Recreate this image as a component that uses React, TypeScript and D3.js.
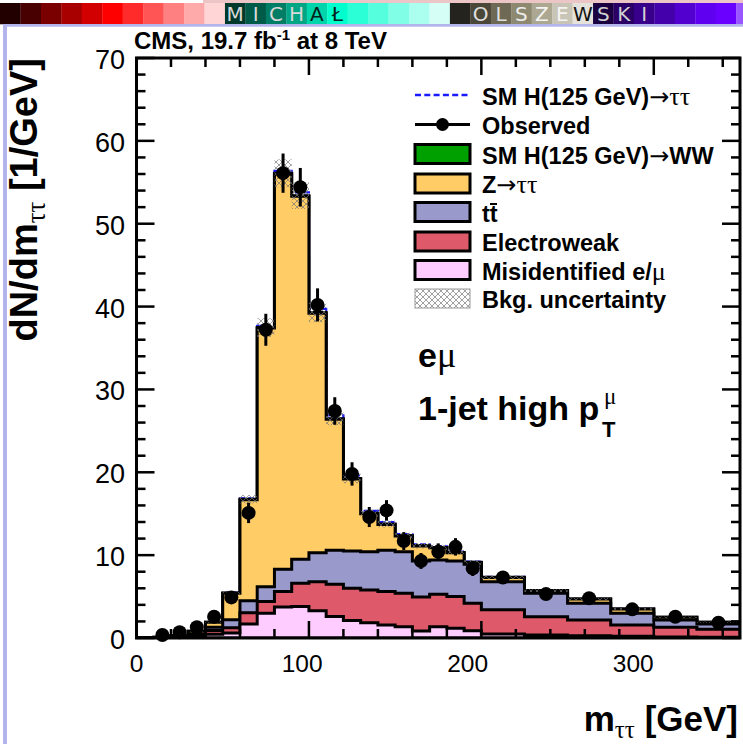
import React from "react";
import * as d3 from "d3";

// m_tautau binning (GeV)
const binEdges = [0, 10, 20, 30, 40, 50, 60, 70, 80, 90, 100, 110, 120, 130, 140, 150, 160, 170, 180, 190, 200, 225, 250, 275, 300, 325, 350];

// expected yields per process, dN/dm in 1/GeV (stacked bottom to top)
const misidentified = [0, 0.02, 0.05, 0.15, 0.45, 0.6, 1.69, 3.0, 3.75, 3.8, 3.3, 2.6, 2.1, 1.85, 1.57, 1.37, 0.85, 1.37, 1.17, 0.89, 0.48, 0.36, 0.28, 0.2, 0.12, 0.08];
const electroweak = [0, 0.02, 0.05, 0.15, 0.45, 0.65, 1.36, 1.4, 1.85, 2.8, 3.5, 3.9, 3.9, 3.95, 4.03, 4.03, 4.1, 3.9, 3.83, 3.31, 2.92, 2.19, 1.89, 1.37, 1.18, 0.97];
const ttbar = [0, 0.02, 0.05, 0.15, 0.4, 0.95, 1.45, 1.8, 2.7, 2.9, 3.5, 4.1, 4.5, 4.6, 5.0, 5.0, 4.35, 4.13, 4.3, 4.7, 3.4, 2.85, 2.03, 1.41, 0.87, 0.64];
const zTauTau = [0, 0.04, 0.15, 0.35, 0.6, 3.2, 12.2, 31.2, 47.7, 43.8, 28.9, 15.8, 8.7, 4.6, 3.1, 1.9, 1.8, 1.5, 1.0, 0.2, 0.5, 0.3, 0.5, 0.52, 0.33, 0.21];
const higgsWW = [0, 0, 0, 0, 0, 0.02, 0.05, 0.06, 0.08, 0.08, 0.08, 0.07, 0.06, 0.05, 0.05, 0.04, 0.04, 0.03, 0.03, 0.03, 0.02, 0.02, 0.01, 0.01, 0.01, 0.01];
const higgsTauTau = [0, 0, 0, 0, 0.02, 0.05, 0.1, 0.2, 0.3, 0.4, 0.45, 0.4, 0.35, 0.3, 0.25, 0.2, 0.15, 0.12, 0.1, 0.08, 0.06, 0.04, 0.03, 0.02, 0.02, 0.01];

// observed data and statistical errors
const observed = [null, 0.36, 0.69, 1.29, 2.57, 4.9, 15.1, 37.2, 56.1, 54.4, 40.2, 27.4, 19.8, 14.6, 15.4, 11.7, 9.3, 10.4, 11.0, 8.4, 7.3, 5.3, 4.8, 3.46, 2.57, 1.85];
const observedErr = [0, 0.19, 0.26, 0.36, 0.51, 0.7, 1.23, 1.93, 2.37, 2.33, 2.0, 1.66, 1.41, 1.21, 1.24, 1.08, 0.96, 1.02, 1.05, 0.92, 0.54, 0.46, 0.44, 0.37, 0.32, 0.27];

const bkgRelUncertainty = 0.03;

const xTickLabels = [0, 100, 200, 300];
const yTickLabels = [0, 10, 20, 30, 40, 50, 60, 70];

// header strip
const bannerColors = [
  "#220000", "#480000", "#7a0000", "#a80000", "#d20000", "#ff0000", "#ff2a2a", "#ff5555", "#ff8080", "#ffaaaa", "#ffd5d5",
  "#00382c", "#005a48", "#007d65", "#00a585", "#00d4aa", "#00ffcc", "#2affd5", "#55ffdd", "#80ffe6", "#aaffee", "#d5fff6",
  "#25231d", "#4a4638", "#6d6954", "#8d8971", "#aba791", "#c8c5b6", "#e4e2da",
  "#1a0040", "#2a0066", "#38008a", "#4400aa", "#5200d0", "#6000f0", "#6a00ff", "#9955ff",
];
const bannerLetters = [
  { i: 11, ch: "M", c: "#d8d8d8" }, { i: 12, ch: "I", c: "#d8d8d8" }, { i: 13, ch: "C", c: "#d8d8d8" },
  { i: 14, ch: "H", c: "#d8d8d8" }, { i: 15, ch: "A", c: "#05221c" }, { i: 16, ch: "Ł", c: "#05221c" },
  { i: 23, ch: "O", c: "#e0e0e0" }, { i: 24, ch: "L", c: "#e0e0e0" }, { i: 25, ch: "S", c: "#ececec" },
  { i: 26, ch: "Z", c: "#f4f4f4" }, { i: 27, ch: "E", c: "#f4f4f4" }, { i: 28, ch: "W", c: "#111111" },
  { i: 29, ch: "S", c: "#d0d0d0" }, { i: 30, ch: "K", c: "#d0d0d0" }, { i: 31, ch: "I", c: "#d0d0d0" },
];

const SANS = "'Liberation Sans', Arial, Helvetica, sans-serif";
const SERIF = "'Liberation Serif', 'Times New Roman', serif";
const ARROW = "'DejaVu Sans', sans-serif";

const x = d3.scaleLinear().domain([0, 350]).range([136.5, 740]);
const y = d3.scaleLinear().domain([0, 70]).range([638, 58]);
// tick-label placement along the x axis
const xLabel = d3.scaleLinear().domain([0, 350]).range([136.5, 716]);

function cumulate(layers: number[][]) {
  const out: number[][] = [];
  let acc = binEdges.slice(1).map(() => 0);
  for (const l of layers) {
    acc = acc.map((a, i) => a + l[i]);
    out.push(acc);
  }
  return out;
}

function stepArea(vals: number[]) {
  const p = d3.path();
  p.moveTo(x(binEdges[0]), y(0));
  vals.forEach((v, i) => {
    p.lineTo(x(binEdges[i]), y(v));
    p.lineTo(x(binEdges[i + 1]), y(v));
  });
  p.lineTo(x(binEdges[binEdges.length - 1]), y(0));
  p.closePath();
  return p.toString();
}

function stepLine(vals: number[]) {
  const p = d3.path();
  let started = false;
  vals.forEach((v, i) => {
    if (!started) {
      if (v <= 0) return;
      p.moveTo(x(binEdges[i]), y(0));
      started = true;
    }
    p.lineTo(x(binEdges[i]), y(v));
    p.lineTo(x(binEdges[i + 1]), y(v));
  });
  return p.toString();
}

export default function App() {
  const [cMis, cEW, cTT, cZ, cWW] = cumulate([misidentified, electroweak, ttbar, zTauTau, higgsWW]);
  const withSignal = cWW.map((v, i) => v + higgsTauTau[i]);
  const layers = [
    { vals: cWW, fill: "#00a000" },
    { vals: cZ, fill: "#ffcc66" },
    { vals: cTT, fill: "#9999cc" },
    { vals: cEW, fill: "#de5a6a" },
    { vals: cMis, fill: "#ffccff" },
  ];
  const centers = binEdges.slice(1).map((e, i) => (e + binEdges[i]) / 2);

  const [x0, x1] = x.range();
  const [yb, yt] = y.range();
  const xMinor = d3.range(0, 351, 20);
  const yMinor = d3.range(0, 71, 2);

  const legendRows = [95, 124.5, 154, 183.5, 212, 241.5, 270, 298.5];
  const lx0 = 415, lx1 = 470, tx = 482;
  const fs = 23.5;

  const boxes = [
    { row: 2, fill: "#00a000" },
    { row: 3, fill: "#ffcc66" },
    { row: 4, fill: "#9999cc" },
    { row: 5, fill: "#de5a6a" },
    { row: 6, fill: "#ffccff" },
  ];

  return (
    <svg width={743} height={744} style={{ position: "absolute", left: 0, top: 0, background: "#fff" }}>
      <defs>
        <pattern id="xhatch" patternUnits="userSpaceOnUse" width={6} height={6}>
          <path d="M0,0L6,6M6,0L0,6" stroke="#777" strokeWidth={0.7} />
        </pattern>
        <clipPath id="plotclip">
          <rect x={x0} y={yt} width={x1 - x0} height={yb - yt} />
        </clipPath>
      </defs>
      <rect width={743} height={744} fill="#fff" />

      {/* header strip */}
      <rect x={203} y={0} width={540} height={3} fill="#ecc6c6" />
      {bannerColors.map((c, i) => (
        <rect key={i} x={i * 20.45} y={3} width={20.7} height={21.3} fill={c} />
      ))}
      {bannerLetters.map((l, k) => (
        <text key={k} x={l.i * 20.45 + 10.2} y={21} textAnchor="middle" fontFamily="'DejaVu Sans', sans-serif" fontSize={20} fill={l.c}>
          {l.ch}
        </text>
      ))}
      <rect x={3} y={24} width={740} height={2.7} fill="#b4b4ec" />
      <rect x={3} y={24} width={4} height={720} fill="#b4b4ec" />

      {/* stacked backgrounds */}
      <g clipPath="url(#plotclip)">
        <path d={stepLine(withSignal)} fill="none" stroke="#1a1aff" strokeWidth={2.2} strokeDasharray="6 3" />
        {layers.map((l, i) => (
          <path key={i} d={stepArea(l.vals)} fill={l.fill} stroke="#000" strokeWidth={3} strokeLinejoin="miter" />
        ))}
        {cWW.map((v, i) =>
          v > 0 ? (
            <rect key={i} x={x(binEdges[i])} width={x(binEdges[i + 1]) - x(binEdges[i])}
              y={y(v * (1 + bkgRelUncertainty))} height={y(v * (1 - bkgRelUncertainty)) - y(v * (1 + bkgRelUncertainty))}
              fill="url(#xhatch)" />
          ) : null
        )}
      </g>

      {/* frame and ticks */}
      <g stroke="#000" strokeWidth={2.5}>
        {xMinor.map((v) => {
          const len = v % 100 === 0 ? 17 : 9;
          return (
            <g key={v}>
              <line x1={x(v)} x2={x(v)} y1={yb} y2={yb - len} />
              <line x1={x(v)} x2={x(v)} y1={yt} y2={yt + len} />
            </g>
          );
        })}
        {yMinor.map((v) => {
          const len = v % 10 === 0 ? 18 : 9;
          return (
            <g key={v}>
              <line x1={x0} x2={x0 + len} y1={y(v)} y2={y(v)} />
              <line x1={x1} x2={x1 - len} y1={y(v)} y2={y(v)} />
            </g>
          );
        })}
      </g>
      <rect x={x0} y={yt} width={x1 - x0} height={yb - yt} fill="none" stroke="#000" strokeWidth={3} />

      {/* observed */}
      <g>
        {observed.map((v, i) =>
          v == null ? null : (
            <g key={i}>
              <line x1={x(centers[i])} x2={x(centers[i])} y1={y(v - observedErr[i])} y2={y(v + observedErr[i])} stroke="#000" strokeWidth={3} />
              <circle cx={x(centers[i])} cy={y(v)} r={7} fill="#000" />
            </g>
          )
        )}
      </g>

      {/* tick labels */}
      <g fontFamily={SANS} fontSize={24.5} fill="#000">
        {xTickLabels.map((v) => (
          <text key={v} x={xLabel(v)} y={672} textAnchor="middle">{v}</text>
        ))}
      </g>
      <g fontFamily={SANS} fontSize={27} fill="#000">
        {yTickLabels.map((v) => (
          <text key={v} x={125} y={y(v) + 11} textAnchor="end">{v}</text>
        ))}
      </g>

      {/* axis titles */}
      <text x={738} y={731} textAnchor="end" fontFamily={SANS} fontWeight="bold" fontSize={35}>
        m<tspan fontFamily={SERIF} fontWeight="normal" fontSize={25} dy={7}>ττ</tspan>
        <tspan dy={-7}> [GeV]</tspan>
      </text>
      <text transform="translate(37,58) rotate(-90)" textAnchor="end" fontFamily={SANS} fontWeight="bold" fontSize={38}>
        dN/dm<tspan fontFamily={SERIF} fontWeight="normal" fontSize={27} dy={8}>ττ</tspan>
        <tspan dy={-8}> [1/GeV]</tspan>
      </text>

      {/* header */}
      <text x={134} y={49} fontFamily={SANS} fontWeight="bold" fontSize={24}>
        CMS, 19.7 fb<tspan fontSize={15} dy={-9}>-1</tspan>
        <tspan dy={9}> at 8 TeV</tspan>
      </text>

      {/* category */}
      <text x={418} y={367} fontFamily={SANS} fontWeight="bold" fontSize={34}>
        e<tspan fontFamily={SERIF} fontWeight="normal" fontSize={36}>μ</tspan>
      </text>
      <text x={418} y={420} fontFamily={SANS} fontWeight="bold" fontSize={34}>1-jet high p</text>
      <text x={604} y={404} fontFamily={SERIF} fontSize={23}>μ</text>
      <text x={602} y={437} fontFamily={SANS} fontWeight="bold" fontSize={22}>T</text>

      {/* legend */}
      <line x1={lx0} x2={lx1} y1={legendRows[0]} y2={legendRows[0]} stroke="#1a1aff" strokeWidth={2.5} strokeDasharray="6 3.3" />
      <line x1={lx0} x2={lx1} y1={legendRows[1]} y2={legendRows[1]} stroke="#000" strokeWidth={3} />
      <circle cx={(lx0 + lx1) / 2} cy={legendRows[1]} r={6.5} fill="#000" />
      {boxes.map((b) => (
        <rect key={b.row} x={lx0} y={legendRows[b.row] - 9.5} width={lx1 - lx0} height={19} fill={b.fill} stroke="#000" strokeWidth={3} />
      ))}
      <rect x={lx0} y={legendRows[7] - 9.5} width={lx1 - lx0} height={19} fill="url(#xhatch)" stroke="#999" strokeWidth={1} />

      <g fontFamily={SANS} fontWeight="bold" fontSize={fs} fill="#000">
        <text x={tx} y={legendRows[0] + 9.5}>
          SM H(125 GeV)<tspan fontFamily={ARROW} fontWeight="normal" fontSize={24}>→</tspan>
          <tspan fontFamily={SERIF} fontWeight="normal" fontSize={26}>ττ</tspan>
        </text>
        <text x={tx} y={legendRows[1] + 9.5}>Observed</text>
        <text x={tx} y={legendRows[2] + 9.5}>
          SM H(125 GeV)<tspan fontFamily={ARROW} fontWeight="normal" fontSize={24}>→</tspan>WW
        </text>
        <text x={tx} y={legendRows[3] + 9.5}>
          Z<tspan fontFamily={ARROW} fontWeight="normal" fontSize={24}>→</tspan>
          <tspan fontFamily={SERIF} fontWeight="normal" fontSize={26}>ττ</tspan>
        </text>
        <text x={tx} y={legendRows[4] + 9.5}>tt</text>
        <text x={tx} y={legendRows[5] + 9.5}>Electroweak</text>
        <text x={tx} y={legendRows[6] + 9.5}>
          Misidentified e/<tspan fontFamily={SERIF} fontWeight="normal" fontSize={26}>μ</tspan>
        </text>
        <text x={tx} y={legendRows[7] + 9.5}>Bkg. uncertainty</text>
      </g>
      <line x1={490} x2={497} y1={legendRows[4] - 8} y2={legendRows[4] - 8} stroke="#000" strokeWidth={2} />
    </svg>
  );
}
